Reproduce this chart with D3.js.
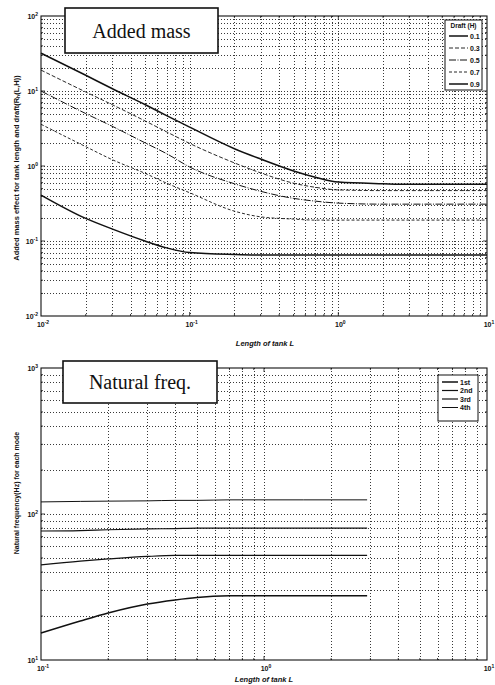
<!DOCTYPE html>
<html>
<head>
<meta charset="utf-8">
<script src="https://cdn.jsdelivr.net/npm/d3@7"></script>
<style>
body { margin: 0; background: #fff; }
svg { display: block; }
.font { font-family: 'Liberation Sans', Arial, sans-serif; font-weight: bold; fill: #111; }
.title { font-family: 'Liberation Serif', 'Times New Roman', serif; font-size: 20px; fill: #111; }
</style>
</head>
<body>
<div class="render"></div>
<script>
'use strict';

// added mass panel
var massL = [0.01, 0.02, 0.03, 0.05, 0.07, 0.1, 0.2, 0.3, 0.5, 0.7, 1, 2, 3, 5, 7, 10];
var draftLabels = ['0.1', '0.3', '0.5', '0.7', '0.9'];
var mass01 = [32, 16.2, 10.8, 6.6, 4.7, 3.3, 1.7, 1.24, 0.86, 0.71, 0.61, 0.58, 0.57, 0.57, 0.57, 0.57];
var mass03 = [19, 9.7, 6.6, 4.0, 2.85, 2.0, 1.1, 0.81, 0.59, 0.52, 0.48, 0.47, 0.47, 0.47, 0.47, 0.47];
var mass05 = [10, 5.0, 3.4, 2.04, 1.46, 0.97, 0.58, 0.46, 0.37, 0.34, 0.32, 0.31, 0.31, 0.31, 0.31, 0.31];
var mass07 = [3.6, 1.81, 1.22, 0.8, 0.59, 0.44, 0.25, 0.21, 0.196, 0.19, 0.19, 0.19, 0.19, 0.19, 0.19, 0.19];
var mass09 = [0.41, 0.2, 0.145, 0.1, 0.081, 0.07, 0.066, 0.065, 0.065, 0.065, 0.065, 0.065, 0.065, 0.065, 0.065, 0.065];
var massXTicks = [0.01, 0.1, 1, 10];
var massYTicks = [0.01, 0.1, 1, 10, 100];

// natural frequency panel
var freqL = [0.1, 0.15, 0.2, 0.3, 0.4, 0.5, 0.7, 1, 1.5, 2, 2.9];
var modeLabels = ['1st', '2nd', '3rd', '4th'];
var mode1 = [15.3, 18.5, 21.0, 24.2, 25.8, 26.8, 27.5, 27.6, 27.6, 27.5, 27.5];
var mode2 = [44.8, 47.6, 49.2, 51.2, 52, 52, 52, 52, 52, 52, 52];
var mode3 = [76.5, 77, 78, 79, 79.5, 80, 80, 80, 80, 80, 80];
var mode4 = [121, 122, 122.5, 123, 124, 124, 125, 125, 125, 125, 125];
var freqXTicks = [0.1, 1, 10];
var freqYTicks = [10, 100, 1000];

var svg = d3.select('.render').append('svg').attr('width', 495).attr('height', 685);

function logSteps(domain) {
   var out = [];
   var e0 = Math.round(Math.log10(domain[0]));
   var e1 = Math.round(Math.log10(domain[1]));
   for (var e = e0; e < e1; e++) {
      for (var k = 1; k < 10; k++) {
         out.push(k * Math.pow(10, e));
      }
   }
   out.push(domain[1]);
   return out;
}

function expLabel(sel, v) {
   var e = Math.round(Math.log10(v));
   sel.append('tspan').text('10');
   sel.append('tspan').text(e).attr('dy', -3).style('font-size', '5px');
}

function panel(p) {
   var x = d3.scaleLog().domain(p.xDomain).range([p.left, p.right]);
   var y = d3.scaleLog().domain(p.yDomain).range([p.bottom, p.top]);
   var g = svg.append('g');

   // dotted grid at every major and minor step
   var xs = logSteps(p.xDomain).filter(function (d) { return d > p.xDomain[0] && d < p.xDomain[1]; });
   var ys = logSteps(p.yDomain).filter(function (d) { return d > p.yDomain[0] && d < p.yDomain[1]; });
   g.selectAll('line.vgrid').data(xs).enter().append('line')
      .attr('x1', function (d) { return Math.round(x(d)) + 0.5; })
      .attr('x2', function (d) { return Math.round(x(d)) + 0.5; })
      .attr('y1', p.top).attr('y2', p.bottom)
      .attr('stroke', '#222').attr('stroke-width', 0.9).attr('stroke-dasharray', '1,2');
   g.selectAll('line.hgrid').data(ys).enter().append('line')
      .attr('y1', function (d) { return Math.round(y(d)) + 0.5; })
      .attr('y2', function (d) { return Math.round(y(d)) + 0.5; })
      .attr('x1', p.left).attr('x2', p.right)
      .attr('stroke', '#222').attr('stroke-width', 0.9).attr('stroke-dasharray', '1,2');

   // inside ticks on all four sides
   var xMajor = function (d) { return p.xTicks.indexOf(d) >= 0; };
   var yMajor = function (d) { return p.yTicks.indexOf(d) >= 0; };
   [p.bottom, p.top].forEach(function (edge, i) {
      g.selectAll('line.xt' + i).data(xs).enter().append('line')
         .attr('x1', function (d) { return x(d); }).attr('x2', function (d) { return x(d); })
         .attr('y1', edge).attr('y2', function (d) { var l = xMajor(d) ? 4 : 2; return i === 0 ? edge - l : edge + l; })
         .attr('stroke', '#111').attr('stroke-width', 0.8);
   });
   [p.left, p.right].forEach(function (edge, i) {
      g.selectAll('line.yt' + i).data(ys).enter().append('line')
         .attr('y1', function (d) { return y(d); }).attr('y2', function (d) { return y(d); })
         .attr('x1', edge).attr('x2', function (d) { var l = yMajor(d) ? 4 : 2; return i === 0 ? edge + l : edge - l; })
         .attr('stroke', '#111').attr('stroke-width', 0.8);
   });

   g.append('rect').attr('x', p.left).attr('y', p.top)
      .attr('width', p.right - p.left).attr('height', p.bottom - p.top)
      .attr('fill', 'none').attr('stroke', '#111').attr('stroke-width', 1.1);

   // tick labels
   g.selectAll('text.xl').data(p.xTicks).enter().append('text')
      .attr('class', 'font').style('font-size', '7px').style('text-anchor', 'middle')
      .attr('x', function (d) { return x(d) + 2; }).attr('y', p.bottom + 11)
      .each(function (d) { expLabel(d3.select(this), d); });
   g.selectAll('text.yl').data(p.yTicks).enter().append('text')
      .attr('class', 'font').style('font-size', '7px').style('text-anchor', 'end')
      .attr('x', p.left - 3).attr('y', function (d) { return y(d) + 3; })
      .each(function (d) { expLabel(d3.select(this), d); });

   // curves
   var line = d3.line().x(function (d) { return x(d[0]); }).y(function (d) { return y(d[1]); }).curve(d3.curveMonotoneX);
   p.series.forEach(function (s) {
      g.append('path').datum(p.xs.map(function (l, i) { return [l, s.values[i]]; }))
         .attr('d', line).attr('fill', 'none').attr('stroke', '#111')
         .attr('stroke-width', s.width).attr('stroke-dasharray', s.dash);
   });

   // axis titles
   g.append('text').text('Length of tank L').attr('class', 'font')
      .style('font-size', '7.5px').style('font-style', 'italic').style('text-anchor', 'middle')
      .attr('x', p.xLabelX).attr('y', p.xLabelY);
   g.append('text').text(p.yLabel).attr('class', 'font')
      .style('font-size', p.yLabelSize).style('text-anchor', 'middle')
      .attr('transform', 'translate(19,' + p.yLabelY + ')rotate(-90)');

   // title box
   g.append('rect').attr('x', p.titleBox[0]).attr('y', p.titleBox[1])
      .attr('width', p.titleBox[2]).attr('height', p.titleBox[3])
      .attr('fill', '#fff').attr('stroke', '#111').attr('stroke-width', 1.6);
   g.append('text').text(p.title).attr('class', 'title').style('text-anchor', 'middle')
      .attr('x', p.titleBox[0] + p.titleBox[2] / 2).attr('y', p.titleBox[1] + p.titleBox[3] / 2 + 7);

   // legend
   var lg = p.legend;
   g.append('rect').attr('x', lg.x).attr('y', lg.y).attr('width', lg.w).attr('height', lg.h)
      .attr('fill', '#fff').attr('stroke', '#111').attr('stroke-width', 1);
   if (lg.title) {
      g.append('text').text(lg.title).attr('class', 'font').style('font-size', '6.5px')
         .style('text-anchor', 'middle').attr('x', lg.x + lg.w / 2).attr('y', lg.y + 8);
   }
   p.series.forEach(function (s, i) {
      var cy = lg.first + i * lg.step;
      g.append('line').attr('x1', lg.x + lg.l1).attr('x2', lg.x + lg.l2).attr('y1', cy).attr('y2', cy)
         .attr('stroke', '#111').attr('stroke-width', s.width).attr('stroke-dasharray', s.dash);
      g.append('text').text(s.name).attr('class', 'font').style('font-size', '7px')
         .attr('x', lg.x + lg.l2 + 2).attr('y', cy + 2.5);
   });
}

panel({
   left: 41, right: 487, top: 16, bottom: 316,
   xDomain: [0.01, 10], yDomain: [0.01, 100],
   xTicks: massXTicks, yTicks: massYTicks, xs: massL,
   series: [
      { name: draftLabels[0], values: mass01, width: 1.5, dash: null },
      { name: draftLabels[1], values: mass03, width: 0.9, dash: '4,2' },
      { name: draftLabels[2], values: mass05, width: 1.0, dash: '7,1.5,1,1.5' },
      { name: draftLabels[3], values: mass07, width: 0.9, dash: '3,2' },
      { name: draftLabels[4], values: mass09, width: 1.5, dash: null }
   ],
   xLabelX: 265, xLabelY: 346,
   yLabel: 'Added mass effect for tank length and draft(R\u2095(L,H))', yLabelY: 168, yLabelSize: '7.5px',
   title: 'Added mass', titleBox: [65, 8, 153, 45],
   legend: { x: 445, y: 20, w: 37, h: 70, title: 'Draft (H)', first: 36, step: 12, l1: 4, l2: 23 }
});

panel({
   left: 41, right: 487, top: 368, bottom: 660,
   xDomain: [0.1, 10], yDomain: [10, 1000],
   xTicks: freqXTicks, yTicks: freqYTicks, xs: freqL,
   series: [
      { name: modeLabels[0], values: mode1, width: 1.5, dash: null },
      { name: modeLabels[1], values: mode2, width: 1.2, dash: null },
      { name: modeLabels[2], values: mode3, width: 1.2, dash: null },
      { name: modeLabels[3], values: mode4, width: 1.0, dash: null }
   ],
   xLabelX: 264, xLabelY: 682,
   yLabel: 'Natural frequency(Hz) for each mode', yLabelY: 493, yLabelSize: '7px',
   title: 'Natural freq.', titleBox: [63, 361, 154, 42],
   legend: { x: 438, y: 375, w: 40, h: 46, title: null, first: 382, step: 8.5, l1: 4, l2: 20 }
});
</script>
</body>
</html>
